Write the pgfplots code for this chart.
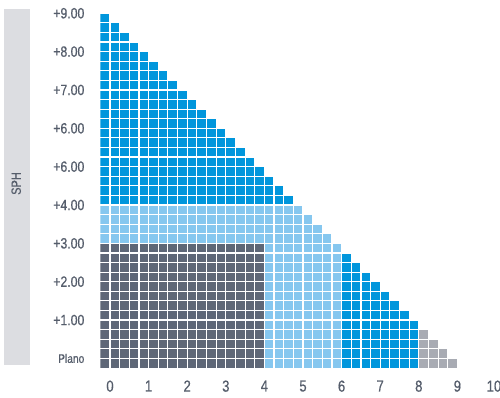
\documentclass[border=0pt]{standalone}
\usepackage{fontspec}
\setmainfont{Liberation Sans}[FakeStretch=0.82, FakeBold=0.6]
\usepackage{pgfplots}
\usepackage{pgfplotstable}
\pgfplotsset{compat=1.18}
\definecolor{cblue}{HTML}{0096DC}
\definecolor{clight}{HTML}{86C7EF}
\definecolor{cdark}{HTML}{5E6777}
\definecolor{cgray}{HTML}{A8ABB3}
\definecolor{cbar}{HTML}{DCDDE1}
\definecolor{ctext}{HTML}{555D6B}
% c = cylinder value; heights of the coloured runs of cells (stacked, sph shifted by +0.25)
\pgfplotstableread{
c     dark  light blue  gray
0     3.25  1     5     0
0.25  3.25  1     4.75  0
0.5   3.25  1     4.5   0
0.75  3.25  1     4.25  0
1     3.25  1     4     0
1.25  3.25  1     3.75  0
1.5   3.25  1     3.5   0
1.75  3.25  1     3.25  0
2     3.25  1     3     0
2.25  3.25  1     2.75  0
2.5   3.25  1     2.5   0
2.75  3.25  1     2.25  0
3     3.25  1     2     0
3.25  3.25  1     1.75  0
3.5   3.25  1     1.5   0
3.75  3.25  1     1.25  0
4     3.25  1     1     0
4.25  0     4.25  0.75  0
4.5   0     4.25  0.5   0
4.75  0     4.25  0.25  0
5     0     4.25  0     0
5.25  0     4     0     0
5.5   0     3.75  0     0
5.75  0     3.5   0     0
6     0     3.25  0     0
6.25  0     0     3     0
6.5   0     0     2.75  0
6.75  0     0     2.5   0
7     0     0     2.25  0
7.25  0     0     2     0
7.5   0     0     1.75  0
7.75  0     0     1.5   0
8     0     0     1.25  0
8.25  0     0     0     1
8.5   0     0     0     0.75
8.75  0     0     0     0.5
9     0     0     0     0.25
}\cells
\begin{document}
\begin{tikzpicture}
\begin{axis}[
  x=38.6bp, y=38.35bp,
  xmin=-0.25, xmax=10.1, ymin=0, ymax=9.25,
  clip=false,
  axis on top,
  axis line style={draw=none},
  major tick length=0pt, minor tick length=0pt,
  ybar stacked, bar width=0.25,
  xtick={0,1,2,3,4,5,6,7,8,9,10},
  xticklabels={0,1,2,3,4,5,6,7,8,9,\hspace*{-4bp}10},
  minor x tick num=3,
  ytick={0.25,1.25,2.25,3.25,4.25,5.25,6.25,7.25,8.25,9.25},
  yticklabels={{\fontsize{12.5}{12.5}\selectfont Plano},+1.00,+2.00,+3.00,+4.00,+6.00,+6.00,+7.00,+8.00,+9.00},
  minor y tick num=3,
  grid=both,
  major grid style={white, line width=1.2bp},
  minor grid style={white, line width=1.2bp},
  xticklabel style={font=\fontsize{16}{16}\selectfont, text=ctext, anchor=north, yshift=-9bp},
  yticklabel style={font=\fontsize{15}{15}\selectfont, text=ctext, anchor=east, xshift=-12.5bp},
]
\addplot[fill=cdark, draw=none] table[x expr=\thisrow{c}-0.125, y=dark] {\cells};
\addplot[fill=clight, draw=none] table[x expr=\thisrow{c}-0.125, y=light] {\cells};
\addplot[fill=cblue, draw=none] table[x expr=\thisrow{c}-0.125, y=blue] {\cells};
\addplot[fill=cgray, draw=none] table[x expr=\thisrow{c}-0.125, y=gray] {\cells};
\coordinate (barsw) at (axis cs:-2.746,0.065);
\coordinate (barne) at (axis cs:-2.0725,9.3608);
\coordinate (sph) at (axis cs:-2.43,4.811);
\coordinate (bbsw) at (axis cs:-2.8497,-0.7826);
\coordinate (bbne) at (axis cs:10.1036,9.5955);
\end{axis}
\fill[cbar] (barsw) rectangle (barne);
\node[rotate=90, text=ctext, font=\fontsize{13.5}{13.5}\selectfont] at (sph) {SPH};
\pgfresetboundingbox
\path[use as bounding box] (bbsw) rectangle (bbne);
\end{tikzpicture}
\end{document}
